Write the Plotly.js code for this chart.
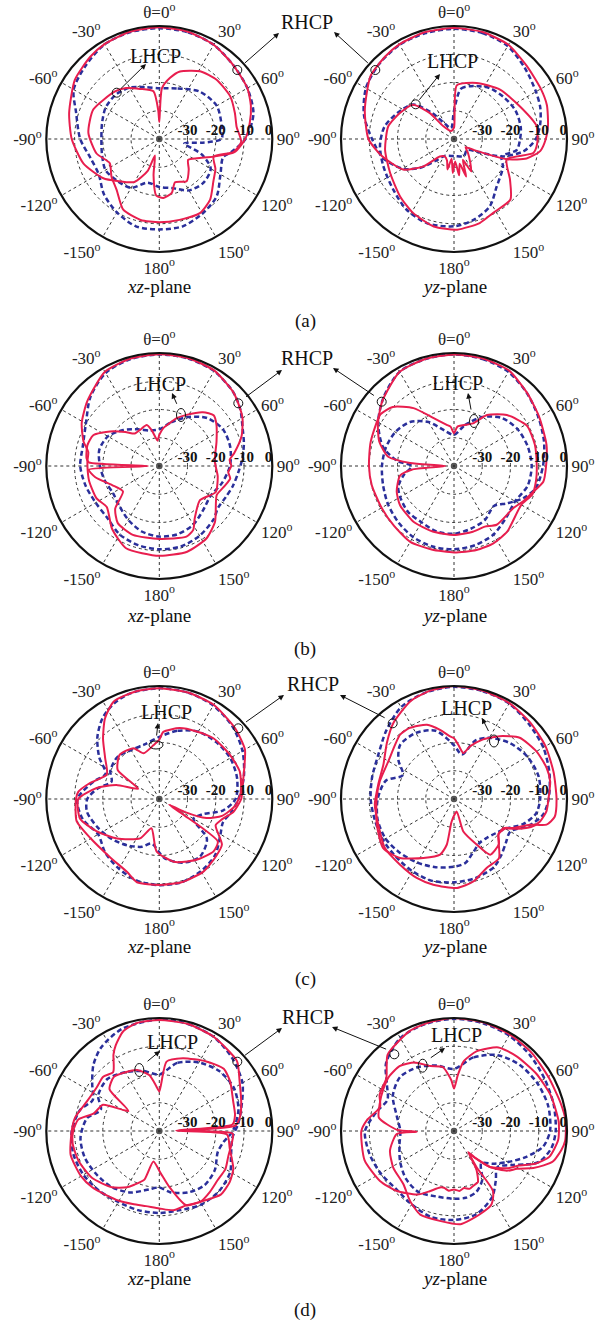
<!DOCTYPE html>
<html>
<head>
<meta charset="utf-8">
<script src="https://cdn.plot.ly/plotly-3.0.1.min.js"></script>
<style>html,body{margin:0;padding:0;background:#fff;}#chart{width:603px;height:1324px;}</style>
</head>
<body>
<div id="chart"></div>
<script>
// ---------- tick labels ----------
const ANG_TICKS = [0,30,60,90,120,150,180,210,240,270,300,330];
const ANG_LABELS = ['θ=0<sup>o</sup>','30<sup>o</sup>','60<sup>o</sup>','90<sup>o</sup>','120<sup>o</sup>','150<sup>o</sup>','180<sup>o</sup>','-150<sup>o</sup>','-120<sup>o</sup>','-90<sup>o</sup>','-60<sup>o</sup>','-30<sup>o</sup>'];
const RAD_TICKS = [-30,-20,-10,0];
const RAD_LABELS = ['-30','-20','-10','0'];
const PANELS = ['(a)','(b)','(c)','(d)'];
const PLANES = ['<i>xz</i>-plane','<i>yz</i>-plane'];

// ---------- data: [theta (deg), gain (dB)] ----------
// (a) xz-plane
const A_XZ_RHCP_SIM = [[0,-0.4],[15,-0.7],[30,-1.5],[45,-3],[60,-4],[70,-5.5],[80,-7.5],[90,-9.6],[100,-13],[108,-19.8],[117,-25],[126,-27.4],[136,-25],[147,-22.2],[160,-23.7],[167,-20.4],[176,-19.1],[-177,-19.9],[-171,-27],[-165,-34],[-160,-28],[-150,-22.4],[-135,-19],[-125,-15.8],[-108,-11.8],[-90,-9],[-74,-6.8],[-55,-3.5],[-40,-2],[-30,-1.2],[-15,-0.6]];
const A_XZ_LHCP_SIM = [[0,-34],[3,-22],[10,-18],[17,-15],[31,-12],[44,-10.8],[59,-10.7],[71,-11.7],[81,-12.3],[92,-11],[100,-13.4],[108,-19.8],[118,-17.5],[128,-15.7],[140,-12],[151,-10.1],[166,-10.5],[180,-10.5],[-167,-10.6],[-153,-11.9],[-140,-16.5],[-128,-18.5],[-116,-20.5],[-103,-17.2],[-85,-14.8],[-66,-14.4],[-43,-17],[-33,-18.5],[-21,-21],[-7,-23],[-2,-30]];
const A_XZ_RHCP_MEAS = [[0,-0.8],[15,-0.9],[30,-1.5],[45,-3],[60,-4],[75,-5.5],[90,-9.5],[100,-14],[106,-16.5],[120,-15],[135,-11.3],[150,-9.5],[165,-8],[180,-8],[-165,-8],[-150,-10],[-135,-12.3],[-120,-15.2],[-105,-14.7],[-90,-12],[-72,-9],[-60,-5],[-45,-3.2],[-30,-1.3],[-15,-0.8]];
const A_XZ_LHCP_MEAS = [[0,-22],[20,-21],[40,-18],[60,-16.5],[80,-17.5],[90,-18],[95,-25],[100,-31],[110,-24],[120,-19],[135,-18],[150,-19],[165,-22],[180,-23],[-165,-24],[-150,-20],[-135,-19],[-120,-18],[-105,-19],[-90,-19.5],[-75,-19],[-60,-18],[-45,-18],[-30,-19],[-15,-21]];
// (a) yz-plane
const A_YZ_RHCP_SIM = [[0,-0.7],[15,-0.8],[30,-1.5],[45,-3.5],[60,-4.5],[70,-5],[82,-6.4],[90,-7.5],[98,-9.2],[105,-13.4],[111,-20],[119,-32],[125,-35],[135,-33],[145,-30],[152,-27],[157,-32],[162,-26],[167,-31],[172,-27],[177,-32],[-178,-28],[-173,-33],[-168,-29],[-162,-32],[-152,-33],[-141,-32],[-132,-25.5],[-121,-19],[-103,-13.7],[-90,-9.7],[-72,-6.8],[-53,-3],[-40,-2],[-30,-1.3],[-15,-0.8]];
const A_YZ_LHCP_SIM = [[0,-36],[3,-21],[22,-18.6],[43,-16.1],[64,-13.9],[81,-10.4],[93,-10.5],[100,-11.5],[111,-20],[126,-15.5],[137,-10.7],[152,-10.4],[163,-8.9],[178,-7.9],[-167,-8.2],[-151,-10.1],[-137,-12.1],[-118,-14.4],[-99,-15.3],[-79,-16.3],[-64,-18.8],[-50,-21.1],[-43,-27.5],[-40,-34],[-20,-37]];
const A_YZ_RHCP_MEAS = [[0,-1],[15,-1.2],[30,-2],[45,-4.5],[60,-6.5],[70,-7.5],[80,-9],[90,-11],[100,-15],[110,-22],[118,-30],[130,-34],[150,-33],[180,-34],[-150,-33],[-140,-30],[-130,-24],[-120,-19],[-105,-14],[-90,-11],[-75,-7],[-60,-4],[-45,-2.5],[-30,-1.5],[-15,-1.2]];
const A_YZ_LHCP_MEAS = [[0,-30],[8,-22],[20,-20],[35,-18],[50,-17],[65,-16],[80,-16],[90,-16.6],[100,-17.5],[110,-22],[120,-20],[138,-17.4],[152,-13],[166,-10.6],[180,-9.1],[-162,-8.7],[-146,-9.9],[-130,-12],[-111,-13.2],[-95,-13.7],[-80,-15],[-65,-18],[-50,-21],[-40,-28],[-30,-34],[-15,-36]];
// (b) xz-plane
const B_XZ_RHCP_SIM = [[0,-0.4],[15,-0.5],[30,-1],[45,-3],[52,-4.4],[60,-6],[70,-9],[80,-13],[85,-15],[90,-14.5],[95,-15.5],[100,-14.5],[108,-16],[117,-17.2],[135,-12.1],[147,-9.4],[162,-8.1],[180,-8.2],[-158,-8.6],[-143,-12.2],[-128,-16.4],[-117,-15],[-102,-14.6],[-94,-14.6],[-86,-14.5],[-79,-14.4],[-72,-11.8],[-61,-8.6],[-48,-5.7],[-30,-1.5],[-15,-0.6]];
const B_XZ_LHCP_SIM = [[0,-29],[6,-26.5],[11,-25.2],[20,-22],[28,-19.5],[39,-15.5],[47,-13.7],[54,-15],[67,-18],[85,-20.3],[100,-19],[115,-18],[130,-21.2],[146,-17.6],[152,-14.4],[159,-13.2],[180,-14.2],[-159,-13.9],[-144,-15],[-134,-18.3],[-125,-24.3],[-112,-22],[-100,-17],[-93,-15],[-90,-36],[-87,-15],[-84,-14.1],[-74,-13.5],[-65,-14.2],[-55,-18.7],[-45,-23],[-37,-25.6],[-28,-25.5],[-17,-24.8],[-12,-27],[-8,-29.5],[-4,-31]];
const B_XZ_RHCP_MEAS = [[0,-0.5],[15,-0.6],[30,-1.2],[45,-3],[55,-5],[65,-7.5],[75,-9],[85,-10.5],[95,-12],[105,-13],[115,-14],[125,-14.5],[135,-13],[150,-11.5],[165,-10.5],[180,-10.5],[-165,-11],[-150,-12],[-135,-14],[-120,-14],[-105,-13],[-90,-12],[-75,-12],[-60,-10],[-45,-5.5],[-30,-2],[-15,-0.8]];
const B_XZ_LHCP_MEAS = [[0,-27],[15,-24],[30,-20],[45,-16],[60,-14],[75,-14],[90,-15],[105,-17],[120,-19],[135,-18],[150,-16],[165,-15],[180,-15],[-165,-16],[-150,-18],[-135,-20],[-120,-21],[-105,-20],[-90,-19],[-75,-18],[-60,-19],[-45,-22],[-30,-25],[-15,-27]];
// (b) yz-plane
const B_YZ_RHCP_SIM = [[0,-0.5],[15,-0.6],[30,-1],[45,-3.4],[60,-5.2],[77,-6.4],[90,-7.4],[100,-7.9],[108,-10.5],[117,-12.5],[125,-14.2],[144,-14.3],[153,-15.9],[164,-15.8],[180,-15.6],[-162,-15.6],[-144,-15.6],[-126,-16.4],[-114,-17.8],[-100,-20.6],[-95,-25],[-90,-37],[-86,-24.4],[-82,-16.5],[-72,-12.2],[-61,-9.2],[-48,-5.8],[-30,-1.5],[-15,-0.8]];
const B_YZ_LHCP_SIM = [[0,-28.4],[5,-26],[24,-23.5],[33,-18.5],[46,-14],[61,-10.5],[75,-10.4],[90,-10.7],[100,-10.5],[110,-10.5],[120,-12.5],[141,-10.1],[153,-9.3],[165,-9.2],[180,-9.4],[-165,-9.4],[-150,-9],[-135,-10],[-120,-10.4],[-103,-10.1],[-90,-9.9],[-74,-9.3],[-55,-8.2],[-46,-9.9],[-35,-15],[-23,-21.6],[-10,-25.2],[-5,-26]];
const B_YZ_RHCP_MEAS = [[0,-0.5],[15,-0.8],[30,-1.5],[45,-3.5],[60,-5.5],[75,-7],[90,-8.5],[105,-10],[115,-13],[125,-17],[135,-20],[150,-18],[165,-17],[180,-16],[-165,-16],[-150,-17],[-135,-17],[-120,-18],[-110,-19],[-100,-22],[-90,-25],[-85,-20],[-75,-14],[-60,-9],[-45,-5],[-30,-1.5],[-15,-0.8]];
const B_YZ_LHCP_MEAS = [[0,-29],[15,-25],[30,-20],[45,-16],[60,-14],[75,-13],[90,-12.5],[105,-13],[120,-15],[135,-14],[150,-12],[165,-11],[180,-10.5],[-165,-10.5],[-150,-11],[-135,-12],[-120,-13],[-105,-14],[-90,-14.5],[-75,-15],[-60,-16],[-45,-18],[-30,-22],[-15,-27]];
// (c) xz-plane
const C_XZ_RHCP_SIM = [[0,-0.8],[15,-1],[30,-1.5],[47,-3.3],[60,-5],[70,-8],[80,-10],[90,-11],[100,-13.4],[108,-16.7],[115,-18],[126,-12.6],[135,-11.5],[149,-9.9],[165,-9.5],[180,-9.6],[-165,-9.5],[-156,-11.8],[-140,-13],[-120,-12],[-105,-9.7],[-90,-10.5],[-85,-11.2],[-77,-14.8],[-65,-19.5],[-53,-16],[-43,-10.8],[-34,-5.6],[-25,-1.9],[-12,-1]];
const C_XZ_LHCP_SIM = [[0,-19],[3.4,-16.2],[16,-13.9],[29,-12.7],[42,-11.2],[58,-10.5],[71,-9.9],[85,-11],[95,-13],[105,-17],[112,-22],[117,-30],[120,-36],[123,-30],[126,-14.4],[134,-13.3],[146,-14.5],[156,-15.8],[167,-17.2],[-177,-21.4],[-165,-29.3],[-154,-24.5],[-133,-19.5],[-117,-15],[-104,-11.1],[-90,-11.3],[-80,-17.5],[-72,-24],[-64,-31.7],[-55,-22],[-42,-19],[-27,-19.8],[-19,-22.9],[-6,-20.8]];
const C_XZ_RHCP_MEAS = [[0,-0.8],[15,-1],[30,-1.8],[45,-3.5],[60,-6],[75,-9],[90,-12],[100,-14],[110,-16],[120,-15],[135,-12],[150,-10.5],[165,-9.5],[180,-9.5],[-165,-10],[-150,-11.5],[-135,-13],[-120,-15],[-105,-12],[-90,-11],[-75,-16],[-65,-19],[-55,-14],[-45,-9],[-35,-5],[-25,-2.5],[-15,-1.2]];
const C_XZ_LHCP_MEAS = [[0,-18],[15,-15],[30,-12.5],[45,-11.5],[60,-11],[75,-11.5],[90,-13],[100,-17],[110,-24],[120,-26],[130,-18],[145,-15],[160,-16],[175,-19],[-170,-24],[-160,-22],[-145,-20],[-130,-18],[-115,-16],[-100,-14],[-90,-14.5],[-80,-18],[-70,-22],[-60,-20],[-45,-19],[-30,-20],[-15,-20]];
// (c) yz-plane
const C_YZ_RHCP_SIM = [[0,0],[15,-0.3],[30,-0.8],[45,-1.8],[60,-2.6],[75,-3.5],[90,-3.7],[100,-3.8],[105.5,-6],[108.7,-11.6],[116,-16.6],[120.5,-19.7],[128.8,-19.8],[142.7,-13.7],[154.7,-13],[166.8,-10],[178,-8.5],[-166.4,-8.8],[-154.7,-9.1],[-140.6,-9.9],[-125.4,-10],[-108.7,-11.7],[-94,-11.9],[-79,-12.7],[-64,-12.2],[-50,-9],[-38.6,-5.6],[-24,-2.1],[-12,-0.7]];
const C_YZ_LHCP_SIM = [[0,-18.5],[5,-21],[11.5,-23.4],[17,-20.5],[26,-16.5],[36,-12.5],[47,-8.2],[60,-6.3],[71.5,-5.4],[79.6,-5.4],[90.6,-6.6],[97.6,-7],[104.6,-8.5],[110,-11],[115,-15],[120,-19],[128,-20],[135,-17.5],[147,-16.5],[153.6,-22],[164,-28],[168,-35.5],[-174,-32],[-171,-23.6],[-166,-19.7],[-152.5,-16.5],[-137.5,-11.7],[-124.7,-9.5],[-108.4,-11.2],[-90,-12.6],[-76.6,-13],[-60,-13.2],[-40,-10.3],[-31.8,-10.4],[-20,-12],[-11.4,-15],[-3.6,-17.8]];
const C_YZ_RHCP_MEAS = [[0,-0.3],[15,-0.5],[30,-1],[45,-2.5],[60,-3.5],[75,-5],[90,-6.5],[100,-8],[110,-12],[120,-17],[130,-16],[140,-14],[150,-12],[165,-11],[180,-10.5],[-165,-10],[-150,-10.5],[-135,-11],[-120,-11],[-105,-11],[-90,-10.5],[-75,-10],[-60,-9],[-45,-6],[-30,-2.5],[-15,-1]];
const C_YZ_LHCP_MEAS = [[0,-21],[10,-24],[20,-18],[30,-15],[45,-12],[60,-10],[75,-9],[90,-9.5],[100,-10.5],[110,-14],[120,-19],[130,-21],[140,-22],[150,-22],[160,-20],[170,-17],[180,-16],[-165,-15],[-150,-14],[-135,-13],[-120,-12],[-105,-12],[-90,-13],[-75,-15],[-65,-20],[-55,-16],[-45,-13],[-30,-13],[-15,-15]];
// (d) xz-plane
const D_XZ_RHCP_SIM = [[0,-0.7],[15,-0.8],[30,-1.5],[48,-3],[58,-6.5],[72,-9.5],[80,-11],[86,-13],[89,-30],[92,-14],[100,-14],[110,-14],[120,-13],[130,-13],[140,-12],[150,-11],[160,-12],[170,-11.5],[180,-12.6],[-170,-13],[-160,-12.5],[-150,-11.5],[-140,-10.5],[-130,-9],[-120,-8],[-105,-7.5],[-90,-9],[-81,-9.8],[-68,-12.3],[-55,-13],[-46,-12.4],[-38,-13.5],[-31,-8.5],[-27,-6],[-20,-2.5],[-12,-1]];
const D_XZ_LHCP_SIM = [[0,-26],[6,-15.3],[18,-12.9],[34,-10.3],[46,-8.3],[55,-9.4],[68,-11.8],[78,-12.6],[85,-14],[89,-34],[93,-16],[104,-14.3],[117,-10.6],[126,-9.2],[136,-8.7],[150,-11.1],[160,-12],[170,-20],[178,-25],[-169,-29],[-163,-22],[-155,-19],[-150,-17],[-140,-14],[-125,-11],[-110,-9.5],[-98,-9],[-90,-9.5],[-82,-11],[-75,-16],[-65,-18],[-57,-27],[-50,-17],[-40,-15],[-30,-16],[-20,-17],[-10,-20],[-4,-24]];
const D_XZ_RHCP_MEAS = [[0,-0.5],[15,-0.8],[30,-1.5],[45,-3.5],[60,-6],[75,-10],[85,-12],[95,-14],[110,-13],[120,-11],[135,-10],[150,-10],[165,-11],[180,-11],[-165,-11],[-150,-11],[-135,-10],[-120,-9],[-105,-8.5],[-90,-9],[-75,-11],[-65,-14],[-55,-11],[-45,-7],[-35,-4],[-20,-1.5]];
const D_XZ_LHCP_MEAS = [[0,-20],[15,-15],[30,-12],[45,-10],[60,-9.5],[75,-11],[90,-14],[100,-17],[110,-18],[125,-16],[140,-15],[155,-16],[170,-18],[180,-20],[-170,-19],[-155,-16],[-140,-14],[-125,-13],[-110,-12],[-95,-12],[-80,-14],[-70,-18],[-60,-15],[-45,-14],[-30,-16],[-15,-18]];
// (d) yz-plane
const D_YZ_RHCP_SIM = [[0,0],[15,-0.2],[30,-0.5],[45,-1],[60,-1.5],[75,-1],[85,-0.3],[95,-0.5],[100,-1.4],[107,-3.3],[111,-6],[115,-9],[121,-14],[127,-16.6],[135,-22],[142,-28],[146,-30],[150,-24],[155,-20],[160,-19.5],[165,-18.8],[170,-19.5],[175,-18.7],[180,-19.3],[-175,-18.8],[-170,-19.6],[-166,-19.4],[-158,-17],[-150,-14],[-136,-10.6],[-124,-8.4],[-108,-6.7],[-90,-7.2],[-83,-8.9],[-72,-12.5],[-64,-10.7],[-52,-9.6],[-41,-4.2],[-24,-1.3],[-12,-0.5]];
const D_YZ_LHCP_SIM = [[0,-25],[4,-20],[8,-15],[16,-10.6],[28,-6.5],[40,-5.5],[55,-4.5],[70,-3.5],[85,-2.8],[95,-3],[105,-5],[112,-9],[118,-14],[125,-17],[135,-22],[142,-28],[146,-31],[148,-24.8],[147,-14.6],[153,-10.8],[163,-9.1],[176,-6.9],[-171,-7.8],[-158,-8.1],[-148,-10.7],[-136.5,-14],[-121,-14.9],[-107,-16.3],[-93,-19.7],[-91,-26.8],[-89,-20],[-80,-13],[-70,-12],[-60,-11],[-50,-10],[-40,-10],[-30,-12],[-20,-15.5],[-10,-17],[-3,-22]];
const D_YZ_RHCP_MEAS = [[0,-0.3],[15,-0.5],[30,-1],[45,-2],[60,-3],[75,-3.5],[90,-4],[100,-5],[110,-8],[115,-12],[120,-16],[130,-20],[140,-17],[150,-13],[165,-9.5],[180,-8.5],[-165,-8.5],[-150,-10],[-135,-11],[-120,-10],[-105,-9],[-90,-8.5],[-75,-12],[-65,-14],[-55,-11],[-45,-6],[-30,-2],[-15,-0.8]];
const D_YZ_LHCP_MEAS = [[0,-18],[15,-13],[30,-9],[45,-7],[60,-6],[75,-5.5],[90,-6],[100,-8],[110,-13],[120,-18],[130,-22],[140,-25],[150,-20],[160,-17],[170,-16],[180,-16],[-165,-16],[-150,-15],[-135,-16],[-120,-18],[-105,-20],[-90,-21],[-75,-19],[-60,-15],[-45,-13],[-30,-14],[-15,-16]];

const SUBPLOTS = [
  {id:'polar',  sim:[A_XZ_RHCP_SIM,A_XZ_LHCP_SIM], meas:[A_XZ_RHCP_MEAS,A_XZ_LHCP_MEAS]},
  {id:'polar2', sim:[A_YZ_RHCP_SIM,A_YZ_LHCP_SIM], meas:[A_YZ_RHCP_MEAS,A_YZ_LHCP_MEAS]},
  {id:'polar3', sim:[B_XZ_RHCP_SIM,B_XZ_LHCP_SIM], meas:[B_XZ_RHCP_MEAS,B_XZ_LHCP_MEAS]},
  {id:'polar4', sim:[B_YZ_RHCP_SIM,B_YZ_LHCP_SIM], meas:[B_YZ_RHCP_MEAS,B_YZ_LHCP_MEAS]},
  {id:'polar5', sim:[C_XZ_RHCP_SIM,C_XZ_LHCP_SIM], meas:[C_XZ_RHCP_MEAS,C_XZ_LHCP_MEAS]},
  {id:'polar6', sim:[C_YZ_RHCP_SIM,C_YZ_LHCP_SIM], meas:[C_YZ_RHCP_MEAS,C_YZ_LHCP_MEAS]},
  {id:'polar7', sim:[D_XZ_RHCP_SIM,D_XZ_LHCP_SIM], meas:[D_XZ_RHCP_MEAS,D_XZ_LHCP_MEAS]},
  {id:'polar8', sim:[D_YZ_RHCP_SIM,D_YZ_LHCP_SIM], meas:[D_YZ_RHCP_MEAS,D_YZ_LHCP_MEAS]}
];

// ---------- geometry ----------
const W = 603, H = 1324, R = 113;
const CX = [159.3, 454];
const CY = [139, 466, 799, 1131];
const RED = '#e81e4e', BLUE = '#2a2f9a';

function closed(pts){ const p = pts.concat([pts[0]]); return {t:p.map(d=>d[0]), r:p.map(d=>d[1])}; }

const traces = [];
SUBPLOTS.forEach(sp=>{
  sp.meas.forEach(m=>{ const c = closed(m); traces.push({type:'scatterpolar', subplot:sp.id, mode:'lines', theta:c.t, r:c.r, line:{color:BLUE, width:2.5, dash:'5px,3px', shape:'spline', smoothing:0.8}, hoverinfo:'skip'}); });
  sp.sim.forEach(s=>{ const c = closed(s); traces.push({type:'scatterpolar', subplot:sp.id, mode:'lines', theta:c.t, r:c.r, line:{color:RED, width:2, shape:'spline', smoothing:0.6}, hoverinfo:'skip'}); });
  // radial tick labels drawn along the 90° direction
  traces.push({type:'scatterpolar', subplot:sp.id, mode:'text', theta:RAD_TICKS.map(()=>90), r:RAD_TICKS,
    text:RAD_LABELS.map(s=>'<b>'+s+'</b>'), textposition:['top center','top center','top center','top left'],
    textfont:{family:'Liberation Serif', size:15, color:'#111'}, hoverinfo:'skip', cliponaxis:false});
  traces.push({type:'scatterpolar', subplot:sp.id, mode:'markers', theta:[0], r:[-40], marker:{symbol:'circle-open', size:5, color:'#555', line:{width:1.5}}, hoverinfo:'skip'});
});

const layout = {width:W, height:H, margin:{l:0,r:0,t:0,b:0}, paper_bgcolor:'white', showlegend:false, annotations:[], shapes:[]};

function polarLayout(cx, cy){
  return {
    domain:{x:[(cx-R)/W,(cx+R)/W], y:[1-(cy+R)/H, 1-(cy-R)/H]},
    bgcolor:'white',
    angularaxis:{rotation:90, direction:'clockwise', tickmode:'array', tickvals:ANG_TICKS, ticktext:ANG_LABELS,
      showline:true, linecolor:'#111', linewidth:2.2, showgrid:true, gridcolor:'#333', griddash:'dot', gridwidth:1,
      ticks:'', tickfont:{family:'Liberation Serif', size:17, color:'#222'}},
    radialaxis:{range:[-40,0], tickmode:'array', tickvals:RAD_TICKS, showticklabels:false,
      angle:0, showline:false, showgrid:true, gridcolor:'#333', griddash:'dot', gridwidth:1, ticks:''}
  };
}
let k = 0;
for (let row=0; row<4; row++){
  for (let col=0; col<2; col++){
    const key = k===0 ? 'polar' : 'polar'+(k+1);
    layout[key] = polarLayout(CX[col], CY[row]);
    k++;
  }
}

function px(x){ return x/W; }
function py(y){ return 1 - y/H; }
function text(x, y, t, size, extra){ layout.annotations.push(Object.assign({xref:'paper', yref:'paper', x:px(x), y:py(y), text:t, showarrow:false, xanchor:'center', yanchor:'middle', font:{family:'Liberation Serif', size:size, color:'#111'}}, extra||{})); }
function arrow(x0, y0, x1, y1){ layout.annotations.push({xref:'paper', yref:'paper', x:px(x1), y:py(y1), ax:x0-x1, ay:y0-y1, axref:'pixel', ayref:'pixel', text:'', showarrow:true, arrowhead:2, arrowsize:1.1, arrowwidth:1, arrowcolor:'#111', standoff:0, startstandoff:4}); }
function ring(x, y, rx, ry){ layout.shapes.push({type:'circle', xref:'paper', yref:'paper', x0:px(x-rx), x1:px(x+rx), y0:py(y+ry), y1:py(y-ry), line:{color:'#111', width:1}}); }

// plane and panel labels
const PLANE_Y = [286, 615, 946, 1278];
const PANEL_Y = [321, 649, 979, 1310];
for (let row=0; row<4; row++){
  text(CX[0], PLANE_Y[row], PLANES[0], 19);
  text(CX[1], PLANE_Y[row], PLANES[1], 19);
  text(305, PANEL_Y[row], PANELS[row], 19);
}

// RHCP / LHCP callouts
const CALL = [
  {rh:[307,22], l1:[237.3,70], h1:[279,33], l2:[375.3,70], h2:[334,32],
   lx:[[155.5,56],[452.5,61]], lc:[[116.7,92.7,4.5,4.5],[415.7,104.3,4.5,4.5]], la:[[116.7,92.7,146,64],[415.7,104.3,440,74]]},
  {rh:[307,358], l1:[238.3,403.3], h1:[282,370], l2:[381.7,401.7], h2:[333,368],
   lx:[[160,384],[457.5,383]], lc:[[181,415,4.5,6.5],[474,421,4.5,6.5]], la:[[179,409,172,393],[472,415,468,393]]},
  {rh:[313,684], l1:[238.3,728.3], h1:[284,695], l2:[392.7,723.3], h2:[340,695],
   lx:[[166,712],[466,708]], lc:[[156,745,7,4],[494,741,4.5,6]], la:[[156,741,158,723],[491,736,482,718]]},
  {rh:[308,1017], l1:[237.3,1061.7], h1:[282,1028], l2:[394.3,1054.3], h2:[332,1027],
   lx:[[172.5,1042],[456,1035]], lc:[[139.3,1070,4.5,6.5],[422.7,1065.7,4.5,6.5]], la:[[143,1065,160,1051],[426,1061,445,1048]]}
];
CALL.forEach(c=>{
  text(c.rh[0], c.rh[1], 'RHCP', 20);
  ring(c.l1[0], c.l1[1], 4.5, 4.5); ring(c.l2[0], c.l2[1], 4.5, 4.5);
  arrow(c.l1[0]+3, c.l1[1]-3, c.h1[0], c.h1[1]);
  arrow(c.l2[0]-3, c.l2[1]-3, c.h2[0], c.h2[1]);
  c.lx.forEach(p=>text(p[0], p[1], 'LHCP', 20));
  c.lc.forEach(p=>ring(p[0], p[1], p[2], p[3]));
  c.la.forEach(p=>arrow(p[0], p[1], p[2], p[3]));
});

Plotly.newPlot('chart', traces, layout, {staticPlot:true});
</script>
</body>
</html>
